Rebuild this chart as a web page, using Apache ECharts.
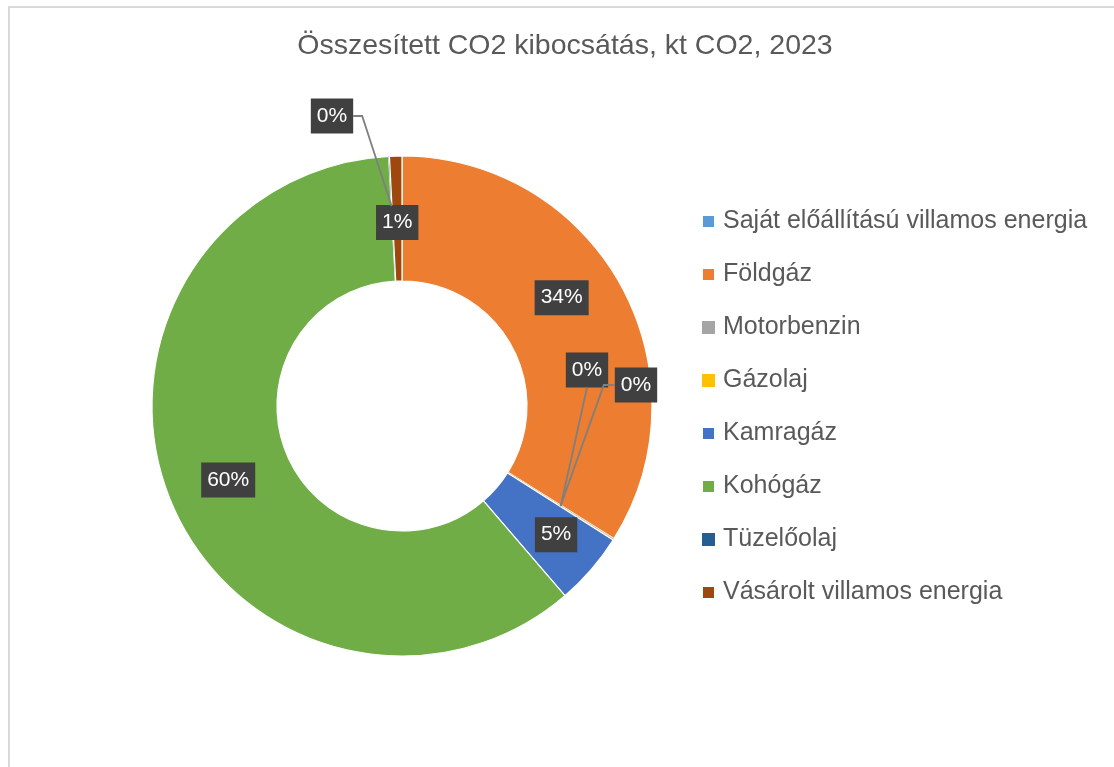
<!DOCTYPE html>
<html>
<head>
<meta charset="utf-8">
<script src="https://cdn.jsdelivr.net/npm/echarts@6/dist/echarts.min.js"></script>
<style>
  html, body { margin: 0; padding: 0; background: #fff; }
  #frame { position: absolute; left: 8px; top: 6px; width: 1200px; height: 900px; border-left: 2px solid #d9d9d9; border-top: 2px solid #d9d9d9; }
  #chart { position: absolute; left: 0; top: 0; width: 1114px; height: 767px; }
</style>
</head>
<body>
<div id="frame"></div>
<div id="chart"></div>
<script>
const chartTitle = 'Összesített CO2 kibocsátás, kt CO2, 2023';
const categories = ['Saját előállítású villamos energia', 'Földgáz', 'Motorbenzin', 'Gázolaj', 'Kamragáz', 'Kohógáz', 'Tüzelőolaj', 'Vásárolt villamos energia'];
// (share of total, %)
const values = [0, 33.9, 0.05, 0.05, 4.7, 60.45, 0.05, 0.8];
const colors = ['#5B9BD5', '#ED7D31', '#A5A5A5', '#FFC000', '#4472C4', '#70AD47', '#255E91', '#9E480E'];

// labels Excel pulled out of tiny slices: centre of box, side the leader line leaves from,
// and how far into the ring the line ends (0 = inner edge, 1 = outer edge)
const movedLabels = {
    2: { pos: [587, 370], side: 'bottom', depth: 0.5 },
    3: { pos: [636, 385], side: 'left', depth: 0.5 },
    6: { pos: [332, 116], side: 'right', depth: 0.6 }
};
// small shifts Excel applied to the inside labels
const labelNudge = { 1: [-3.5, -8], 4: [5, 2], 5: [1.5, 1.5], 7: [0, 3.5] };
const pieCenter = [402, 406];
const pieRadius = [125, 250];

const chart = echarts.init(document.getElementById('chart'));
const labelSizes = {};

const seriesData = categories.map((name, i) => {
    const item = { name: name, value: values[i], itemStyle: { color: colors[i] } };
    if (i === 0) item.label = { show: false };
    // hairline slices: skip the white border so it doesn't leave a gap
    if (movedLabels[i]) item.itemStyle.borderWidth = 0;
    return item;
});

chart.setOption({
    animation: false,
    title: {
        text: chartTitle,
        top: 27,
        left: 560,
        textAlign: 'center',
        textStyle: { fontFamily: 'Liberation Sans', fontSize: 28.5, fontWeight: 'normal', color: '#595959' }
    },
    legend: {
        orient: 'vertical',
        left: 696,
        top: 204,
        itemWidth: 13,
        itemHeight: 13,
        itemGap: 28,
        icon: 'rect',
        textStyle: { fontFamily: 'Liberation Sans', fontSize: 25, color: '#595959', lineHeight: 25, padding: [0, 0, 0, 3] },
        data: categories
    },
    series: [{
        type: 'pie',
        center: pieCenter,
        radius: pieRadius,
        startAngle: 90,
        clockwise: true,
        avoidLabelOverlap: false,
        itemStyle: { borderColor: '#fff', borderWidth: 1.2 },
        label: {
            show: true,
            position: 'inside',
            formatter: p => Math.round(p.percent) + '%',
            fontFamily: 'Liberation Sans',
            fontSize: 21,
            color: '#fff',
            backgroundColor: '#404040',
            padding: [7, 6, 7, 6]
        },
        labelLine: { show: false },
        emphasis: { disabled: true },
        labelLayout: function (params) {
            const i = params.dataIndex;
            const m = movedLabels[i];
            if (m) {
                labelSizes[i] = [params.labelRect.width, params.labelRect.height];
                return { x: m.pos[0], y: m.pos[1], align: 'center', verticalAlign: 'middle' };
            }
            if (labelNudge[i]) return { dx: labelNudge[i][0], dy: labelNudge[i][1] };
        },
        data: seriesData
    }]
});

// leader lines from the moved labels back into their slices
const pieData = chart.getModel().getSeriesByIndex(0).getData();
const leaderLines = Object.keys(movedLabels).map(key => {
    const i = +key;
    const m = movedLabels[i];
    const lay = pieData.getItemLayout(i);
    const mid = (lay.startAngle + lay.endAngle) / 2;
    const r = lay.r0 + (lay.r - lay.r0) * m.depth;
    const anchor = [lay.cx + r * Math.cos(mid), lay.cy + r * Math.sin(mid)];
    const [w, h] = labelSizes[i] || [42, 35];
    const [x, y] = m.pos;
    let pts;
    if (m.side === 'right') pts = [[x + w / 2, y], [x + w / 2 + 9, y], anchor];
    else if (m.side === 'left') pts = [[x - w / 2, y], [x - w / 2 - 11, y], anchor];
    else pts = [[x, y + h / 2], anchor];
    return {
        type: 'polyline',
        z: 5,
        shape: { points: pts },
        style: { stroke: '#7f7f7f', lineWidth: 1.8, fill: null }
    };
});
chart.setOption({ graphic: leaderLines });
</script>
</body>
</html>
